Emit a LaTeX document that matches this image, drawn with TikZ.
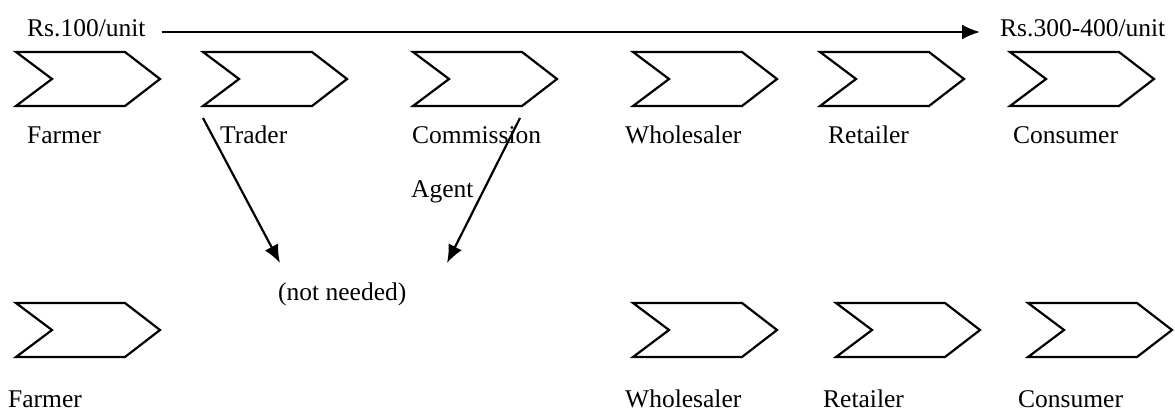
\documentclass[tikz,border=0pt]{standalone}
\usepackage{fontspec}
\setmainfont{Liberation Serif}
\usetikzlibrary{arrows.meta,calc}
\newcommand\chevron[3]{%
  \draw[chev] (#2,#3) coordinate (#1-tl) -- ++(109,0) coordinate (#1-tr) -- ++(35,27) coordinate (#1-tip)
    -- ++(-35,27) coordinate (#1-br) -- ++(-109,0) coordinate (#1-bl) -- ++(36,-27) coordinate (#1-notch) -- cycle;}
\begin{document}
\begin{tikzpicture}[x=1pt,y=-1pt,
  chev/.style={line width=2.2pt,line join=miter},
  lbl/.style={anchor=base west,inner sep=0pt,font=\fontsize{25.5}{30}\selectfont},
  arr/.style={line width=2.2pt,-{Latex[length=18pt,width=15pt]}}]
\useasboundingbox (0,0) rectangle (1175,417);
% top row
\node[lbl] (rs1) at (27,37) {Rs.100/unit};
\node[lbl] (rs2) at (1000,37) {Rs.300-400/unit};
\draw[arr] ($(rs1.base east)+(16,-5)$) -- ($(rs2.base west)+(-20,-5)$);
\chevron{c1}{16}{52}
\chevron{c2}{203}{52}
\chevron{c3}{413}{52}
\chevron{c4}{633}{52}
\chevron{c5}{820}{52}
\chevron{c6}{1010}{52}
\node[lbl] (l1) at (27,143) {Farmer};
\node[lbl] (l2) at (220,143) {Trader};
\node[lbl] (l3) at (412,143) {Commission};
\node[lbl] (l3b) at (411,197) {Agent};
\node[lbl] (l4) at (625,143) {Wholesaler};
\node[lbl] (l5) at (828,143) {Retailer};
\node[lbl] (l6) at (1013,143) {Consumer};
% not needed
\node[lbl] (nn) at (278,300) {(not needed)};
\coordinate (e1) at (280,263);
\coordinate (e2) at (447,263);
\draw[arr] ($(c2-bl)+(0,12)$) -- (e1);
\draw[arr] ($(c3-br)+(-2,12)$) -- (e2);
% bottom row
\chevron{d1}{16}{303}
\chevron{d4}{633}{303}
\chevron{d5}{836}{303}
\chevron{d6}{1028}{303}
\node[lbl] (m1) at (8,407) {Farmer};
\node[lbl] (m4) at (625,407) {Wholesaler};
\node[lbl] (m5) at (823,407) {Retailer};
\node[lbl] (m6) at (1018,407) {Consumer};
\end{tikzpicture}
\end{document}
